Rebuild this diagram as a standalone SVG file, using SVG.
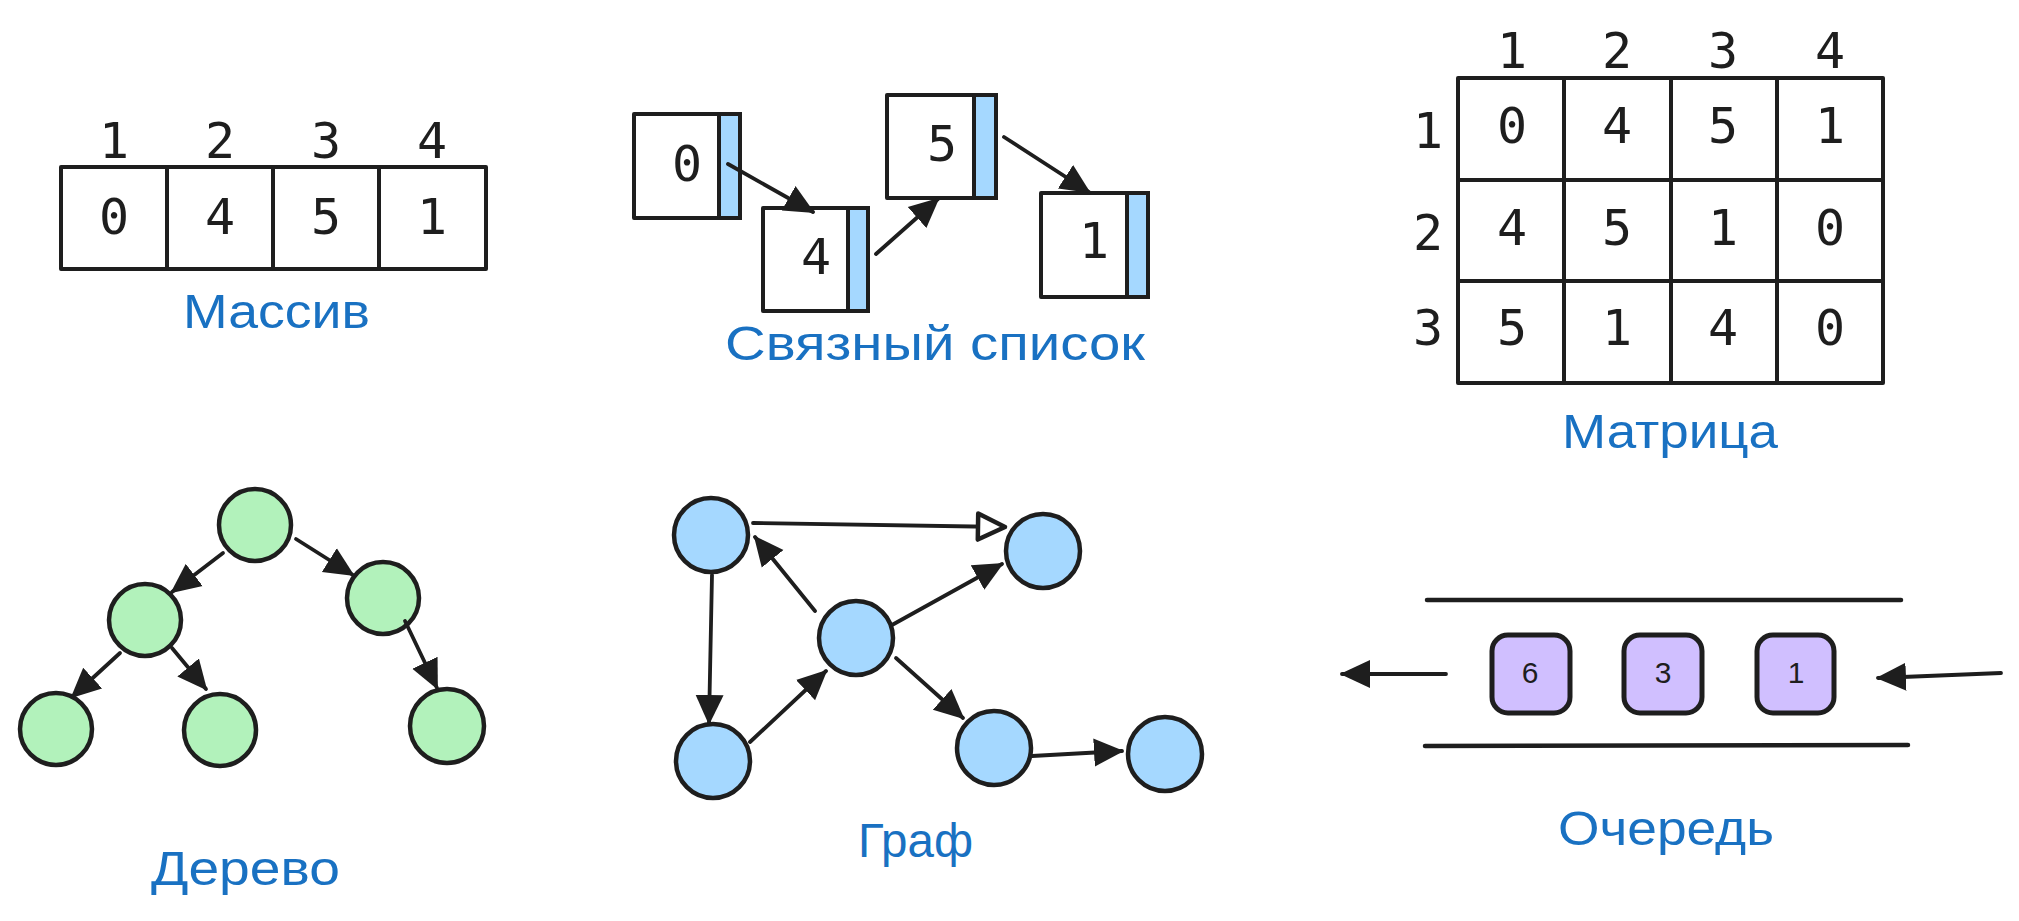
<svg xmlns="http://www.w3.org/2000/svg" width="2019" height="921" viewBox="0 0 2019 921">
<style>
.bx{fill:#ffffff;stroke:#1e1e1e;stroke-width:4;stroke-linejoin:round}
.bar{fill:#a5d8ff;stroke:#1e1e1e;stroke-width:4}
.tn{fill:#b2f2bb;stroke:#1e1e1e;stroke-width:4.5}
.gn{fill:#a5d8ff;stroke:#1e1e1e;stroke-width:4.5}
.qn{fill:#d0bfff;stroke:#1e1e1e;stroke-width:5}
.ln{fill:none;stroke:#1e1e1e;stroke-width:3.8;stroke-linecap:round}
.wall{fill:none;stroke:#1e1e1e;stroke-width:4.5;stroke-linecap:round}
.num{font-family:"DejaVu Sans Mono","Liberation Mono",monospace;font-size:50px;fill:#1e1e1e;text-anchor:middle}
.qnum{font-family:"Liberation Sans",Arial,sans-serif;font-size:30px;fill:#1e1e1e;text-anchor:middle}
.lbl{font-family:"Liberation Sans",Arial,sans-serif;font-size:48px;fill:#1971c2}
</style>
<defs>
<marker id="ah" viewBox="0 0 30 30" refX="28" refY="15" markerWidth="30" markerHeight="30" markerUnits="userSpaceOnUse" orient="auto">
<path d="M0,1 L30,15 L0,29 z" fill="#1e1e1e"/>
</marker>
<marker id="aho" viewBox="0 0 34 34" refX="30" refY="17" markerWidth="34" markerHeight="34" markerUnits="userSpaceOnUse" orient="auto">
<path d="M3,4 L30,17 L3,30 z" fill="#ffffff" stroke="#1e1e1e" stroke-width="4.5" stroke-linejoin="round"/>
</marker>
</defs>

<!-- Array -->
<g id="array">
<text class="num" x="114" y="158">1</text>
<text class="num" x="220" y="158">2</text>
<text class="num" x="326" y="158">3</text>
<text class="num" x="432" y="158">4</text>
<rect class="bx" x="61" y="167" width="425" height="102"/>
<line class="bx" x1="167" y1="167" x2="167" y2="269"/>
<line class="bx" x1="273" y1="167" x2="273" y2="269"/>
<line class="bx" x1="379" y1="167" x2="379" y2="269"/>
<text class="num" x="114" y="234">0</text>
<text class="num" x="220" y="234">4</text>
<text class="num" x="326" y="234">5</text>
<text class="num" x="432" y="234">1</text>
<text class="lbl" x="183" y="328" textLength="187" lengthAdjust="spacingAndGlyphs">Массив</text>
</g>

<!-- Linked list -->
<g id="ll-0">
<rect class="bx" x="634" y="114" width="85" height="104"/>
<rect class="bar" x="719" y="114" width="21" height="104"/>
<text class="num" x="687" y="181">0</text>
</g>
<g id="ll-4">
<rect class="bx" x="763" y="208" width="85" height="103"/>
<rect class="bar" x="848" y="208" width="20" height="103"/>
<text class="num" x="816" y="274">4</text>
</g>
<g id="ll-5">
<rect class="bx" x="887" y="95" width="87" height="103"/>
<rect class="bar" x="974" y="95" width="22" height="103"/>
<text class="num" x="942" y="161">5</text>
</g>
<g id="ll-1">
<rect class="bx" x="1041" y="193" width="86" height="104"/>
<rect class="bar" x="1127" y="193" width="21" height="104"/>
<text class="num" x="1094" y="258">1</text>
</g>
<g id="ll-label"><text class="lbl" x="725" y="360" textLength="420" lengthAdjust="spacingAndGlyphs">Связный список</text></g>

<!-- Matrix -->
<g id="matrix">
<text class="num" x="1512" y="68">1</text>
<text class="num" x="1617" y="68">2</text>
<text class="num" x="1723" y="68">3</text>
<text class="num" x="1830" y="68">4</text>
<text class="num" x="1428" y="148">1</text>
<text class="num" x="1428" y="250">2</text>
<text class="num" x="1428" y="345">3</text>
<rect class="bx" x="1458" y="78" width="425" height="305"/>
<line class="bx" x1="1564" y1="78" x2="1564" y2="383"/>
<line class="bx" x1="1671" y1="78" x2="1671" y2="383"/>
<line class="bx" x1="1777" y1="78" x2="1777" y2="383"/>
<line class="bx" x1="1458" y1="180" x2="1883" y2="180"/>
<line class="bx" x1="1458" y1="281" x2="1883" y2="281"/>
<text class="num" x="1512" y="143">0</text>
<text class="num" x="1617" y="143">4</text>
<text class="num" x="1723" y="143">5</text>
<text class="num" x="1830" y="143">1</text>
<text class="num" x="1512" y="245">4</text>
<text class="num" x="1617" y="245">5</text>
<text class="num" x="1723" y="245">1</text>
<text class="num" x="1830" y="245">0</text>
<text class="num" x="1512" y="345">5</text>
<text class="num" x="1617" y="345">1</text>
<text class="num" x="1723" y="345">4</text>
<text class="num" x="1830" y="345">0</text>
<text class="lbl" x="1562" y="448" textLength="216" lengthAdjust="spacingAndGlyphs">Матрица</text>
</g>

<!-- Tree -->
<g id="tree-root"><circle class="tn" cx="255" cy="525" r="36"/></g>
<g id="tree-l"><circle class="tn" cx="145" cy="620" r="36"/></g>
<g id="tree-r"><circle class="tn" cx="383" cy="598" r="36"/></g>
<g id="tree-ll"><circle class="tn" cx="56" cy="729" r="36"/></g>
<g id="tree-lr"><circle class="tn" cx="220" cy="730" r="36"/></g>
<g id="tree-rr"><circle class="tn" cx="447" cy="726" r="37"/></g>
<g id="tree-label"><text class="lbl" x="151" y="885" textLength="189" lengthAdjust="spacingAndGlyphs">Дерево</text></g>

<!-- Graph -->
<g id="g-a"><circle class="gn" cx="711" cy="535" r="37"/></g>
<g id="g-b"><circle class="gn" cx="1043" cy="551" r="37"/></g>
<g id="g-c"><circle class="gn" cx="856" cy="638" r="37"/></g>
<g id="g-d"><circle class="gn" cx="713" cy="761" r="37"/></g>
<g id="g-e"><circle class="gn" cx="994" cy="748" r="37"/></g>
<g id="g-f"><circle class="gn" cx="1165" cy="754" r="37"/></g>
<g id="graph-label"><text class="lbl" x="858" y="857" textLength="115" lengthAdjust="spacingAndGlyphs">Граф</text></g>

<!-- Queue -->
<g id="queue-walls">
<line class="wall" x1="1427" y1="600" x2="1901" y2="600"/>
<line class="wall" x1="1425" y1="746" x2="1908" y2="745"/>
</g>
<g id="q-6"><rect class="qn" x="1492" y="635" width="78" height="78" rx="16"/><text class="qnum" x="1530" y="683">6</text></g>
<g id="q-3"><rect class="qn" x="1624" y="635" width="78" height="78" rx="16"/><text class="qnum" x="1663" y="683">3</text></g>
<g id="q-1"><rect class="qn" x="1757" y="635" width="77" height="78" rx="16"/><text class="qnum" x="1796" y="683">1</text></g>
<g id="queue-label"><text class="lbl" x="1558" y="845" textLength="216" lengthAdjust="spacingAndGlyphs">Очередь</text></g>

<!-- Connectors -->
<g id="connectors">
<line class="ln" x1="728" y1="164" x2="813" y2="212" marker-end="url(#ah)"/>
<line class="ln" x1="876" y1="254" x2="938" y2="199" marker-end="url(#ah)"/>
<line class="ln" x1="1004" y1="137" x2="1089" y2="192" marker-end="url(#ah)"/>

<line class="ln" x1="223" y1="553" x2="172" y2="592" marker-end="url(#ah)"/>
<line class="ln" x1="296" y1="539" x2="353" y2="575" marker-end="url(#ah)"/>
<line class="ln" x1="120" y1="653" x2="72" y2="697" marker-end="url(#ah)"/>
<line class="ln" x1="172" y1="648" x2="206" y2="689" marker-end="url(#ah)"/>
<line class="ln" x1="405" y1="621" x2="437" y2="688" marker-end="url(#ah)"/>

<line class="ln" x1="753" y1="523" x2="1005" y2="527" marker-end="url(#aho)"/>
<line class="ln" x1="815" y1="611" x2="755" y2="537" marker-end="url(#ah)"/>
<line class="ln" x1="712" y1="575" x2="709" y2="723" marker-end="url(#ah)"/>
<line class="ln" x1="750" y1="742" x2="826" y2="671" marker-end="url(#ah)"/>
<line class="ln" x1="892" y1="625" x2="1002" y2="564" marker-end="url(#ah)"/>
<line class="ln" x1="896" y1="658" x2="963" y2="718" marker-end="url(#ah)"/>
<line class="ln" x1="1032" y1="756" x2="1122" y2="751" marker-end="url(#ah)"/>

<line class="ln" x1="1446" y1="674" x2="1342" y2="674" marker-end="url(#ah)"/>
<line class="ln" x1="2001" y1="673" x2="1878" y2="678" marker-end="url(#ah)"/>
</g>
</svg>
